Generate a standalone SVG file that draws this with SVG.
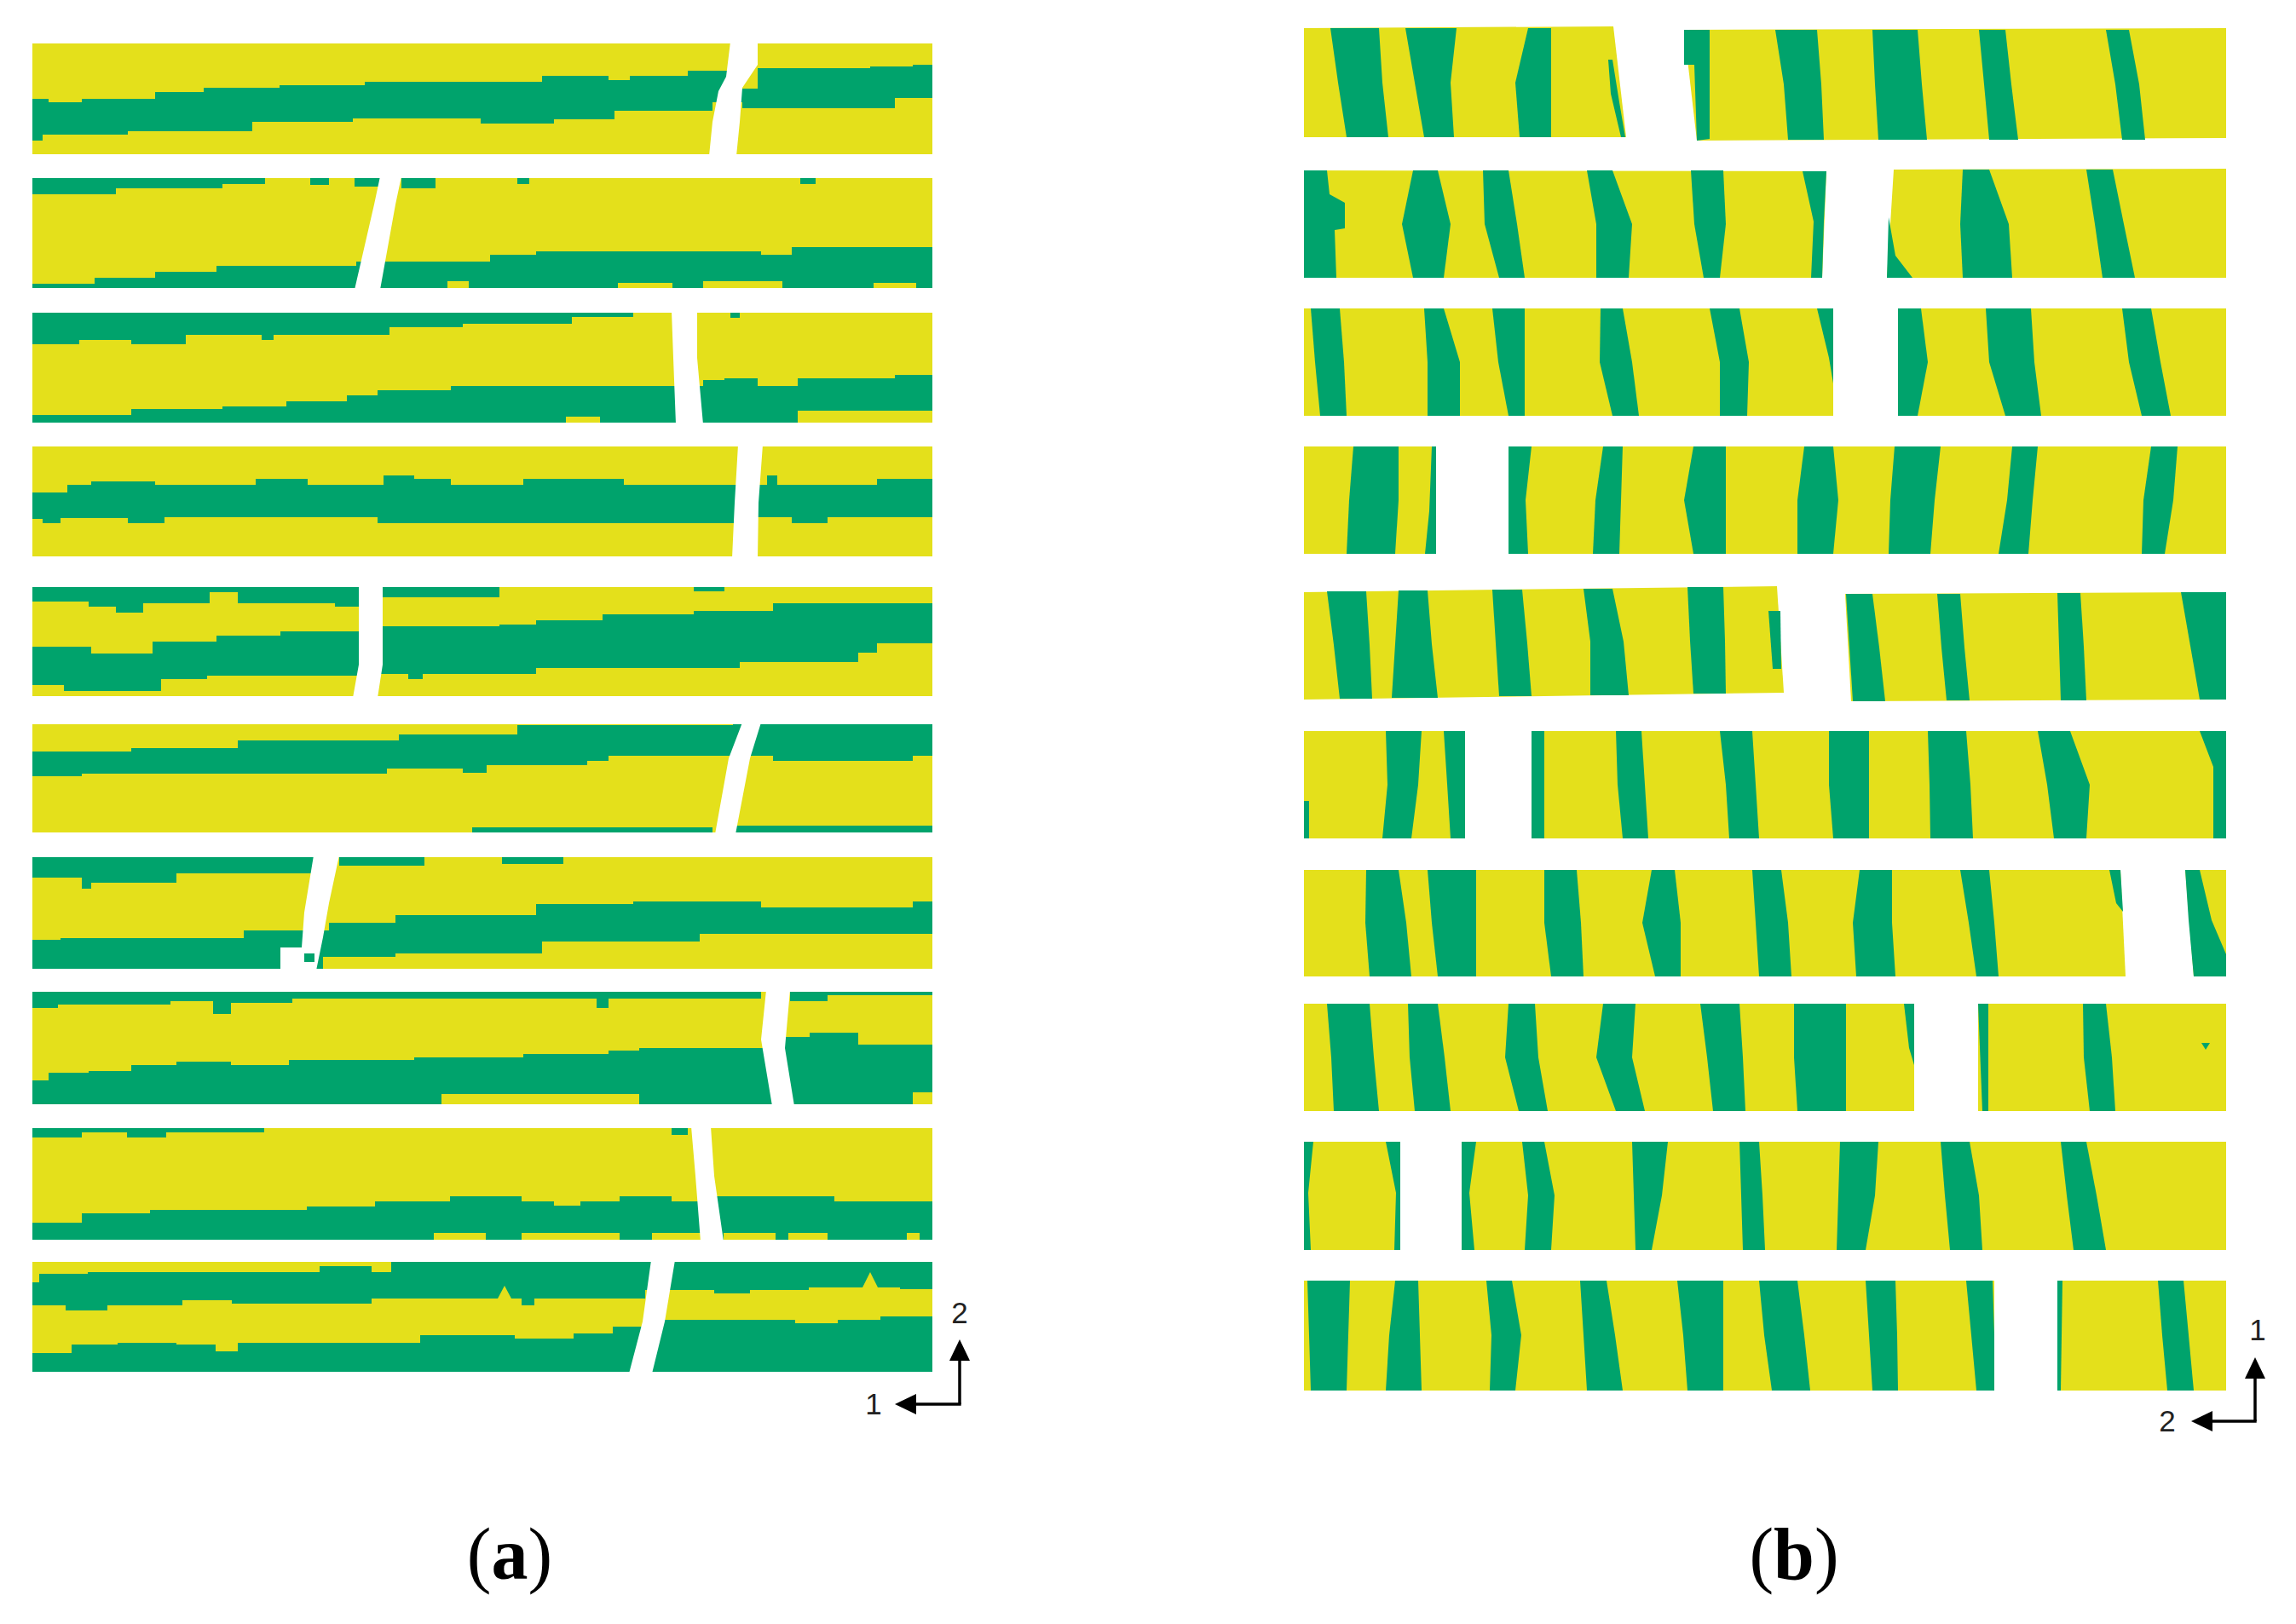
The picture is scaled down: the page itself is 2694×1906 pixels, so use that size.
<svg xmlns="http://www.w3.org/2000/svg" width="2694" height="1906" viewBox="0 0 2694 1906">
<style>
.y{fill:#E4E01B}
.g{fill:#00A36C}
.w{fill:#FFFFFF}
.ax{stroke:#000;stroke-width:3.5;fill:none}
.lbl{font-family:"Liberation Sans",Arial,sans-serif;font-size:35px;fill:#222;text-anchor:middle}
.cap{font-family:"Liberation Serif","Times New Roman",serif;font-size:86px;fill:#000;text-anchor:middle}
</style>
<defs>
<marker id="ah" markerUnits="userSpaceOnUse" markerWidth="26" markerHeight="24" refX="4" refY="12" orient="auto">
<path d="M0,0 L25,12 L0,24 Z" fill="#000"/>
</marker>
</defs>
<rect width="2694" height="1906" fill="#fff"/>

<g id="panel-a">
<g id="a-row1">
<rect class="y" x="38" y="51" width="1056" height="130"/>
<path class="g" d="M38 116 H57 V120 H96 V116 H182 V108 H239 V103 H328 V100 H428 V96 H636 V89 H714 V94 H739 V89 H807 V83 H860 V104 H889 V80 H1021 V78 H1071 V76 H1094 V115 H1050 V127 H871 V120 H836 V130 H721 V140 H650 V145 H564 V139 H414 V143 H296 V154 H150 V158 H50 V165 H38 Z"/>
<polygon class="w" points="857,49 889,49 889,76 871,103 868,143 864,183 832,183 836,143 843,107 852,90"/>
</g>
<g id="a-row2">
<rect class="y" x="38" y="209" width="1056" height="129"/>
<path class="g" d="M38 209 H311 V216 H261 V221 H136 V228 H38 Z"/>
<rect class="g" x="364" y="209" width="22" height="8"/>
<rect class="g" x="416" y="209" width="30" height="10"/>
<rect class="g" x="471" y="209" width="40" height="12"/>
<rect class="g" x="607" y="209" width="14" height="7"/>
<rect class="g" x="939" y="209" width="18" height="7"/>
<path class="g" d="M38 333 H111 V326 H182 V319 H254 V312 H418 V307 H575 V299 H629 V295 H893 V299 H929 V290 H1094 V338 H38 Z"/>
<rect class="y" x="525" y="330" width="25" height="8"/>
<rect class="y" x="725" y="332" width="64" height="6"/>
<rect class="y" x="825" y="330" width="93" height="8"/>
<rect class="y" x="1025" y="332" width="50" height="6"/>
<polygon class="w" points="446,207 471,207 464,240 446,340 416,340 439,240"/>
</g>
<g id="a-row3">
<rect class="y" x="38" y="367" width="1056" height="129"/>
<path class="g" d="M38 367 H743 V372 H671 V380 H543 V384 H457 V393 H321 V399 H307 V393 H218 V404 H154 V399 H93 V404 H38 Z"/>
<rect class="g" x="857" y="367" width="11" height="6"/>
<path class="g" d="M38 487 H154 V480 H261 V477 H336 V471 H407 V464 H443 V458 H529 V453 H825 V446 H850 V444 H889 V453 H936 V444 H1050 V440 H1094 V482 H936 V496 H38 Z"/>
<rect class="y" x="664" y="489" width="40" height="7"/>
<polygon class="w" points="788,365 818,365 818,420 825,498 793,498 790,420"/>
</g>
<g id="a-row4">
<rect class="y" x="38" y="524" width="1056" height="129"/>
<path class="g" d="M38 578 H79 V569 H107 V565 H182 V569 H300 V562 H361 V569 H450 V558 H486 V562 H529 V569 H614 V562 H732 V569 H900 V558 H912 V569 H1029 V562 H1094 V607 H971 V614 H929 V607 H866 V614 H443 V607 H193 V614 H150 V608 H71 V614 H50 V609 H38 Z"/>
<polygon class="w" points="866,522 895,522 890,590 889,655 859,655 862,590"/>
</g>
<g id="a-row5">
<rect class="y" x="38" y="689" width="1056" height="128"/>
<path class="g" d="M38 689 H421 V712 H393 V708 H279 V695 H246 V708 H168 V719 H136 V712 H104 V706 H38 Z"/>
<path class="g" d="M449 689 H586 V701 H449 Z"/>
<rect class="g" x="814" y="689" width="36" height="5"/>
<path class="g" d="M38 759 H107 V767 H179 V753 H254 V746 H329 V741 H449 V735 H586 V733 H629 V728 H707 V721 H814 V717 H907 V708 H1094 V755 H1029 V766 H1007 V777 H868 V784 H629 V791 H496 V797 H479 V791 H421 V793 H243 V797 H189 V811 H75 V804 H38 Z"/>
<polygon class="w" points="421,687 449,687 449,780 443,819 414,819 421,780"/>
</g>
<g id="a-row6">
<rect class="y" x="38" y="850" width="1056" height="127"/>
<path class="g" d="M38 882 H154 V878 H279 V869 H468 V862 H607 V851 H860 V850 H1094 V887 H1071 V893 H907 V887 H714 V893 H689 V898 H571 V907 H543 V902 H454 V908 H96 V911 H38 Z"/>
<rect class="g" x="554" y="971" width="282" height="6"/>
<rect class="g" x="863" y="969" width="231" height="8"/>
<polygon class="w" points="871,848 893,848 880,890 863,979 839,979 855,890"/>
</g>
<g id="a-row7">
<rect class="y" x="38" y="1006" width="1056" height="131"/>
<path class="g" d="M38 1006 H368 V1025 H207 V1036 H107 V1043 H96 V1030 H38 Z"/>
<rect class="g" x="398" y="1006" width="100" height="10"/>
<rect class="g" x="589" y="1006" width="72" height="8"/>
<path class="g" d="M38 1103 H71 V1101 H286 V1092 H386 V1083 H464 V1074 H629 V1061 H743 V1058 H893 V1065 H1071 V1058 H1094 V1096 H821 V1105 H636 V1119 H464 V1123 H379 V1137 H38 Z"/>
<polygon class="w" points="368,1004 398,1004 386,1060 379,1100 371,1139 329,1139 329,1112 354,1112 357,1071"/>
<rect class="g" x="357" y="1119" width="12" height="10"/>
</g>
<g id="a-row8">
<rect class="y" x="38" y="1164" width="1056" height="132"/>
<path class="g" d="M38 1164 H893 V1172 H714 V1183 H700 V1172 H343 V1177 H271 V1190 H250 V1175 H200 V1179 H68 V1183 H38 Z"/>
<path class="g" d="M927 1164 H1094 V1168 H971 V1175 H927 Z"/>
<path class="g" d="M38 1268 H57 V1259 H104 V1257 H154 V1250 H207 V1246 H271 V1250 H339 V1244 H486 V1241 H614 V1237 H714 V1233 H750 V1230 H921 V1217 H950 V1212 H1007 V1226 H1094 V1282 H1071 V1296 H38 Z"/>
<rect class="y" x="518" y="1284" width="232" height="12"/>
<polygon class="w" points="899,1162 927,1162 921,1230 932,1298 906,1298 893,1220"/>
</g>
<g id="a-row9">
<rect class="y" x="38" y="1324" width="1056" height="131"/>
<path class="g" d="M38 1324 H310 V1329 H195 V1335 H149 V1329 H96 V1335 H38 Z"/>
<rect class="g" x="788" y="1324" width="19" height="8"/>
<path class="g" d="M38 1435 H96 V1424 H176 V1420 H360 V1416 H440 V1410 H528 V1404 H612 V1410 H650 V1415 H681 V1410 H727 V1404 H788 V1410 H834 V1404 H979 V1410 H1094 V1455 H38 Z"/>
<rect class="y" x="509" y="1447" width="61" height="8"/>
<rect class="y" x="612" y="1447" width="115" height="8"/>
<rect class="y" x="765" y="1447" width="57" height="8"/>
<rect class="y" x="849" y="1447" width="61" height="8"/>
<rect class="y" x="925" y="1447" width="46" height="8"/>
<rect class="y" x="1064" y="1447" width="15" height="8"/>
<polygon class="w" points="811,1322 834,1322 838,1380 849,1457 822,1457 816,1380"/>
</g>
<g id="a-row10">
<rect class="y" x="38" y="1481" width="1056" height="129"/>
<path class="g" d="M38 1505 H46 V1495 H103 V1493 H375 V1486 H436 V1493 H459 V1481 H1094 V1513 H1056 V1511 H1030 L1021 1493 L1012 1511 H949 V1514 H880 V1518 H838 V1514 H757 V1524 H627 V1532 H612 V1524 H600 L592 1509 L584 1524 H436 V1530 H272 V1526 H214 V1532 H126 V1538 H77 V1532 H38 Z"/>
<path class="g" d="M38 1588 H84 V1578 H138 V1576 H207 V1578 H253 V1586 H279 V1576 H493 V1567 H604 V1571 H673 V1565 H719 V1557 H770 V1549 H933 V1553 H983 V1549 H1033 V1545 H1094 V1610 H38 Z"/>
<polygon class="w" points="764,1479 792,1479 780,1551 765,1612 738,1612 754,1551"/>
</g>
<g id="a-axes">
<path class="ax" d="M1126 1648 V1593" marker-end="url(#ah)"/>
<path class="ax" d="M1127.7 1648 H1071" marker-end="url(#ah)"/>
<text class="lbl" x="1126" y="1553">2</text>
<text class="lbl" x="1025" y="1660">1</text>
</g>
<text id="cap-a" class="cap" x="598" y="1853">(<tspan font-weight="bold">a</tspan>)</text>
</g>

<g id="panel-b">
<g id="b-row1">
<polygon class="y" points="1530,33 1893,31 1908,161 1530,161"/>
<polygon class="y" points="1976,35 2612,33 2612,162 1991,165"/>
<polygon class="g" points="1561,33 1618,33 1622,97 1629,161 1580,161 1570,97"/>
<polygon class="g" points="1649,33 1709,33 1702,97 1706,161 1671,161 1660,97"/>
<polygon class="g" points="1793,33 1820,33 1820,97 1820,161 1783,161 1778,97"/>
<polygon class="g" points="1887,70 1892,70 1900,120 1907,161 1902,161 1890,110"/>
<polygon class="g" points="1976,35 2006,35 2006,163 1991,165 1988,76 1976,76"/>
<polygon class="g" points="2083,35 2132,35 2137,99 2140,164 2098,164 2093,99"/>
<polygon class="g" points="2197,35 2250,35 2255,99 2261,164 2204,164 2200,99"/>
<polygon class="g" points="2322,35 2353,35 2360,99 2368,164 2334,164 2328,99"/>
<polygon class="g" points="2471,35 2498,35 2510,99 2517,164 2490,164 2482,99"/>
</g>
<g id="b-row2">
<polygon class="y" points="1530,200 2143,201 2138,326 1530,326"/>
<polygon class="y" points="2222,199 2612,198 2612,326 2214,326"/>
<polygon class="g" points="1530,200 1557,200 1560,228 1578,238 1578,268 1566,270 1568,326 1530,326"/>
<polygon class="g" points="1658,200 1687,200 1702,263 1694,326 1658,326 1645,263"/>
<polygon class="g" points="1740,200 1770,200 1780,263 1789,326 1759,326 1742,263"/>
<polygon class="g" points="1862,200 1892,200 1915,263 1911,326 1873,326 1873,263"/>
<polygon class="g" points="1984,200 2022,200 2025,263 2018,326 1999,326 1988,263"/>
<polygon class="g" points="2115,201 2143,201 2140,260 2138,326 2125,326 2128,260"/>
<polygon class="g" points="2216,255 2224,300 2244,326 2214,326"/>
<polygon class="g" points="2303,199 2334,199 2357,263 2361,326 2303,326 2300,263"/>
<polygon class="g" points="2448,199 2479,199 2492,263 2505,326 2467,326 2458,263"/>
</g>
<g id="b-row3">
<rect class="y" x="1530" y="362" width="621" height="126"/>
<rect class="y" x="2227" y="362" width="385" height="126"/>
<polygon class="g" points="1538,362 1572,362 1577,425 1580,488 1549,488 1543,425"/>
<polygon class="g" points="1671,362 1694,362 1713,425 1713,488 1675,488 1675,425"/>
<polygon class="g" points="1751,362 1789,362 1789,425 1789,488 1770,488 1758,425"/>
<polygon class="g" points="1878,362 1904,362 1915,425 1923,488 1892,488 1877,425"/>
<polygon class="g" points="2006,362 2041,362 2052,425 2050,488 2018,488 2018,425"/>
<polygon class="g" points="2132,362 2151,362 2151,450 2146,420"/>
<polygon class="g" points="2227,362 2254,362 2262,425 2250,488 2227,488"/>
<polygon class="g" points="2330,362 2383,362 2387,425 2395,488 2353,488 2334,425"/>
<polygon class="g" points="2490,362 2524,362 2535,425 2547,488 2513,488 2498,425"/>
</g>
<g id="b-row4">
<rect class="y" x="1530" y="524" width="155" height="126"/>
<rect class="y" x="1770" y="524" width="842" height="126"/>
<polygon class="g" points="1588,524 1641,524 1641,587 1637,650 1580,650 1583,587"/>
<polygon class="g" points="1680,524 1685,524 1685,650 1672,650 1677,600"/>
<polygon class="g" points="1770,524 1797,524 1790,587 1793,650 1770,650"/>
<polygon class="g" points="1881,524 1904,524 1902,587 1900,650 1869,650 1872,587"/>
<polygon class="g" points="1987,524 2025,524 2025,587 2025,650 1987,650 1976,587"/>
<polygon class="g" points="2117,524 2151,524 2157,587 2151,650 2109,650 2109,587"/>
<polygon class="g" points="2223,524 2277,524 2270,587 2265,650 2216,650 2218,587"/>
<polygon class="g" points="2361,524 2391,524 2385,587 2380,650 2345,650 2355,587"/>
<polygon class="g" points="2524,524 2555,524 2550,587 2540,650 2513,650 2515,587"/>
</g>
<g id="b-row5">
<polygon class="y" points="1530,695 2085,688 2093,813 1530,821"/>
<polygon class="y" points="2165,697 2612,695 2612,821 2172,823"/>
<polygon class="g" points="1557,694 1603,694 1607,757 1610,820 1572,820 1565,757"/>
<polygon class="g" points="1641,693 1675,693 1680,756 1687,819 1633,819 1637,756"/>
<polygon class="g" points="1751,692 1786,692 1792,755 1797,817 1759,817 1755,755"/>
<polygon class="g" points="1858,691 1892,691 1905,753 1911,816 1866,816 1866,753"/>
<polygon class="g" points="1980,689 2022,689 2024,752 2025,814 1987,814 1983,752"/>
<polygon class="g" points="2075,717 2089,717 2090,785 2080,785"/>
<polygon class="g" points="2166,697 2197,697 2205,760 2212,823 2174,823 2170,760"/>
<polygon class="g" points="2273,697 2300,697 2305,760 2311,822 2284,822 2278,760"/>
<polygon class="g" points="2414,696 2441,696 2445,759 2448,822 2418,822 2416,759"/>
<polygon class="g" points="2559,695 2612,695 2612,758 2612,821 2581,821 2570,758"/>
</g>
<g id="b-row6">
<rect class="y" x="1530" y="858" width="189" height="126"/>
<rect class="y" x="1797" y="858" width="815" height="126"/>
<polygon class="g" points="1530,940 1536,940 1536,984 1530,984"/>
<polygon class="g" points="1626,858 1668,858 1664,921 1656,984 1622,984 1628,921"/>
<polygon class="g" points="1694,858 1719,858 1719,984 1702,984 1698,920"/>
<polygon class="g" points="1797,858 1812,858 1812,984 1797,984"/>
<polygon class="g" points="1896,858 1926,858 1930,921 1934,984 1904,984 1898,921"/>
<polygon class="g" points="2018,858 2056,858 2060,921 2064,984 2029,984 2025,921"/>
<polygon class="g" points="2146,858 2193,858 2193,921 2193,984 2151,984 2146,921"/>
<polygon class="g" points="2262,858 2307,858 2312,921 2315,984 2265,984 2264,921"/>
<polygon class="g" points="2391,858 2429,858 2452,921 2448,984 2410,984 2402,921"/>
<polygon class="g" points="2581,858 2612,858 2612,984 2597,984 2597,900"/>
</g>
<g id="b-row7">
<polygon class="y" points="1530,1021 2488,1021 2494,1146 1530,1146"/>
<polygon class="y" points="2564,1021 2612,1021 2612,1146 2574,1146"/>
<polygon class="g" points="1603,1021 1641,1021 1650,1083 1656,1146 1607,1146 1602,1083"/>
<polygon class="g" points="1675,1021 1732,1021 1732,1083 1732,1146 1687,1146 1680,1083"/>
<polygon class="g" points="1812,1021 1850,1021 1855,1083 1858,1146 1820,1146 1812,1083"/>
<polygon class="g" points="1938,1021 1965,1021 1972,1083 1972,1146 1942,1146 1927,1083"/>
<polygon class="g" points="2056,1021 2090,1021 2098,1083 2102,1146 2064,1146 2060,1083"/>
<polygon class="g" points="2182,1021 2220,1021 2220,1083 2224,1146 2178,1146 2174,1083"/>
<polygon class="g" points="2300,1021 2334,1021 2340,1083 2345,1146 2319,1146 2310,1083"/>
<polygon class="g" points="2475,1021 2488,1021 2491,1070 2483,1060"/>
<polygon class="g" points="2564,1021 2581,1021 2595,1080 2612,1120 2612,1146 2574,1146 2568,1080"/>
</g>
<g id="b-row8">
<rect class="y" x="1530" y="1178" width="716" height="126"/>
<rect class="y" x="2321" y="1178" width="291" height="126"/>
<polygon class="g" points="1557,1178 1607,1178 1612,1241 1618,1304 1565,1304 1562,1241"/>
<polygon class="g" points="1652,1178 1687,1178 1695,1241 1702,1304 1660,1304 1654,1241"/>
<polygon class="g" points="1770,1178 1801,1178 1805,1241 1816,1304 1782,1304 1766,1241"/>
<polygon class="g" points="1881,1178 1919,1178 1915,1241 1930,1304 1896,1304 1873,1241"/>
<polygon class="g" points="1995,1178 2041,1178 2045,1241 2048,1304 2010,1304 2003,1241"/>
<polygon class="g" points="2105,1178 2166,1178 2166,1241 2166,1304 2109,1304 2105,1241"/>
<polygon class="g" points="2234,1178 2246,1178 2246,1250 2240,1230"/>
<polygon class="g" points="2321,1178 2333,1178 2333,1304 2326,1304"/>
<polygon class="g" points="2444,1178 2471,1178 2478,1241 2482,1304 2452,1304 2445,1241"/>
<polygon class="g" points="2583,1224 2593,1224 2588,1232"/>
</g>
<g id="b-row9">
<rect class="y" x="1530" y="1340" width="113" height="127"/>
<rect class="y" x="1715" y="1340" width="897" height="127"/>
<polygon class="g" points="1530,1340 1541,1340 1535,1400 1538,1467 1530,1467"/>
<polygon class="g" points="1626,1340 1643,1340 1643,1467 1636,1467 1638,1400"/>
<polygon class="g" points="1715,1340 1732,1340 1724,1400 1730,1467 1715,1467"/>
<polygon class="g" points="1786,1340 1812,1340 1824,1403 1820,1467 1789,1467 1793,1403"/>
<polygon class="g" points="1915,1340 1957,1340 1950,1403 1938,1467 1919,1467 1917,1403"/>
<polygon class="g" points="2041,1340 2064,1340 2068,1403 2071,1467 2045,1467 2043,1403"/>
<polygon class="g" points="2159,1340 2204,1340 2200,1403 2189,1467 2155,1467 2157,1403"/>
<polygon class="g" points="2277,1340 2311,1340 2322,1403 2326,1467 2288,1467 2282,1403"/>
<polygon class="g" points="2418,1340 2448,1340 2460,1403 2471,1467 2433,1467 2425,1403"/>
</g>
<g id="b-row10">
<rect class="y" x="1530" y="1503" width="810" height="129"/>
<rect class="y" x="2414" y="1503" width="198" height="129"/>
<polygon class="g" points="1534,1503 1584,1503 1582,1567 1580,1632 1538,1632 1536,1567"/>
<polygon class="g" points="1637,1503 1664,1503 1666,1567 1668,1632 1626,1632 1630,1567"/>
<polygon class="g" points="1744,1503 1774,1503 1785,1567 1778,1632 1748,1632 1750,1567"/>
<polygon class="g" points="1854,1503 1885,1503 1895,1567 1904,1632 1862,1632 1858,1567"/>
<polygon class="g" points="1968,1503 2022,1503 2022,1567 2022,1632 1980,1632 1975,1567"/>
<polygon class="g" points="2064,1503 2109,1503 2117,1567 2124,1632 2079,1632 2070,1567"/>
<polygon class="g" points="2189,1503 2224,1503 2226,1567 2227,1632 2197,1632 2193,1567"/>
<polygon class="g" points="2307,1503 2338,1503 2340,1567 2340,1632 2319,1632 2313,1567"/>
<polygon class="g" points="2414,1503 2420,1503 2418,1632 2414,1632"/>
<polygon class="g" points="2532,1503 2562,1503 2568,1567 2574,1632 2543,1632 2537,1567"/>
</g>
<g id="b-axes">
<path class="ax" d="M2646 1668 V1614" marker-end="url(#ah)"/>
<path class="ax" d="M2647.7 1668 H2592" marker-end="url(#ah)"/>
<text class="lbl" x="2649" y="1573">1</text>
<text class="lbl" x="2543" y="1680">2</text>
</g>
<text id="cap-b" class="cap" x="2105" y="1853">(<tspan font-weight="bold">b</tspan>)</text>
</g>
</svg>
